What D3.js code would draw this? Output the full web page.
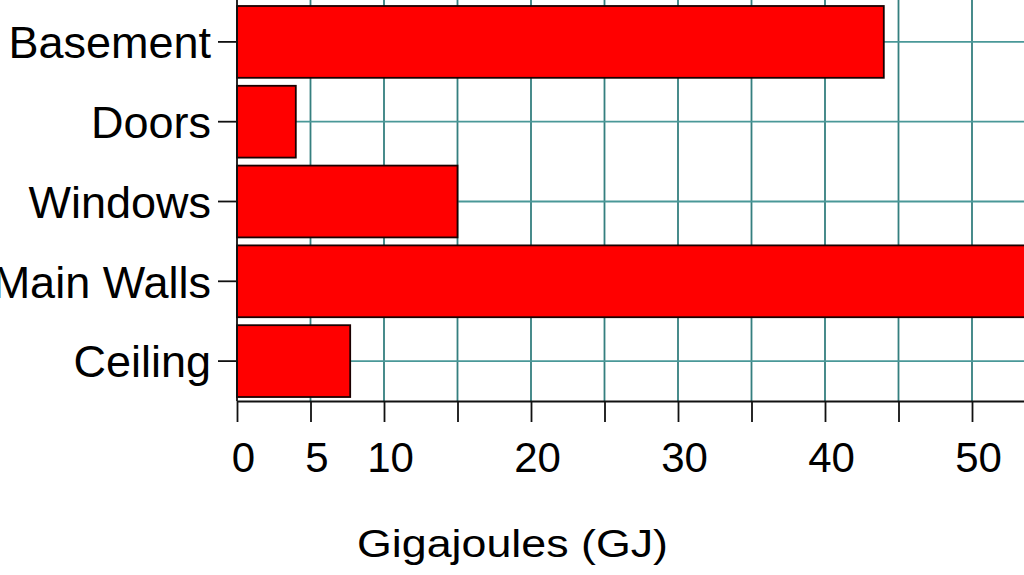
<!DOCTYPE html>
<html>
<head>
<meta charset="utf-8">
<script src="https://cdn.jsdelivr.net/npm/d3@7"></script>
<style>
  html, body { margin: 0; padding: 0; background: #fff; overflow: hidden; }
  svg { display: block; font-family: "Liberation Sans", Arial, sans-serif; }
</style>
</head>
<body>
<svg id="chart" width="1024" height="575"></svg>
<script>
const categories = ["Basement", "Doors", "Windows", "Main Walls", "Ceiling"];
const values = [44, 4, 15, 57, 7.7];
const tickValues = [0, 5, 10, 15, 20, 25, 30, 35, 40, 45, 50, 55];
const labeledTicks = [0, 5, 10, 20, 30, 40, 50];
const xTitle = "Gigajoules (GJ)";

const svg = d3.select("#chart");
const W = 1024, H = 575;
const x0 = 237, axisY = 401;
const pxPerUnit = 14.7;

const x = d3.scaleLinear().domain([0, 60]).range([x0, x0 + 60 * pxPerUnit]);
const y = d3.scaleBand().domain(categories).range([2, axisY]).paddingInner(0.1).paddingOuter(0.05);

// vertical gridlines
svg.append("g").selectAll("line").data(tickValues.filter(d => d > 0)).join("line")
  .attr("x1", d => x(d)).attr("x2", d => x(d))
  .attr("y1", 0).attr("y2", axisY)
  .attr("stroke", "#357f7f").attr("stroke-width", 1.8);

// horizontal gridlines
svg.append("g").selectAll("line").data(categories).join("line")
  .attr("x1", x0).attr("x2", W)
  .attr("y1", d => y(d) + y.bandwidth() / 2).attr("y2", d => y(d) + y.bandwidth() / 2)
  .attr("stroke", "#4a9898").attr("stroke-width", 1.8);

// bars
svg.append("g").selectAll("rect").data(categories).join("rect")
  .attr("x", x(0))
  .attr("y", d => y(d))
  .attr("width", (d, i) => x(values[i]) - x(0))
  .attr("height", y.bandwidth())
  .attr("fill", "#ff0000")
  .attr("stroke", "#1a0000").attr("stroke-width", 1.8);

// y axis
const yAxis = svg.append("g").attr("transform", `translate(${x0},0)`)
  .call(d3.axisLeft(y).tickSize(19).tickPadding(7).tickSizeOuter(0));
yAxis.select(".domain").remove();
yAxis.append("line").attr("x1", 0).attr("x2", 0).attr("y1", 0).attr("y2", axisY)
  .attr("stroke", "#111").attr("stroke-width", 1.8);
yAxis.selectAll(".tick line").attr("stroke", "#111").attr("stroke-width", 1.8);
yAxis.selectAll(".tick text").attr("font-size", 45).attr("fill", "#000")
  .attr("font-family", "Liberation Sans, Arial, sans-serif").attr("dy", "0.36em");

// x axis
const xAxis = svg.append("g").attr("transform", `translate(0,${axisY})`)
  .call(d3.axisBottom(x).tickValues(tickValues).tickSize(21).tickSizeOuter(0)
    .tickFormat(d => labeledTicks.includes(d) ? d : ""));
xAxis.select(".domain").attr("stroke", "#111").attr("stroke-width", 1.8);
xAxis.selectAll(".tick line").attr("stroke", "#111").attr("stroke-width", 1.8);
xAxis.selectAll(".tick text").attr("font-size", 42).attr("fill", "#000")
  .attr("font-family", "Liberation Sans, Arial, sans-serif")
  .attr("y", 71).attr("dy", 0).attr("dx", 6);

// x title
svg.append("text")
  .attr("x", 512.5).attr("y", 557)
  .attr("text-anchor", "middle")
  .attr("font-size", 38)
  .attr("textLength", 311).attr("lengthAdjust", "spacingAndGlyphs")
  .attr("fill", "#000")
  .text(xTitle);
</script>
</body>
</html>
